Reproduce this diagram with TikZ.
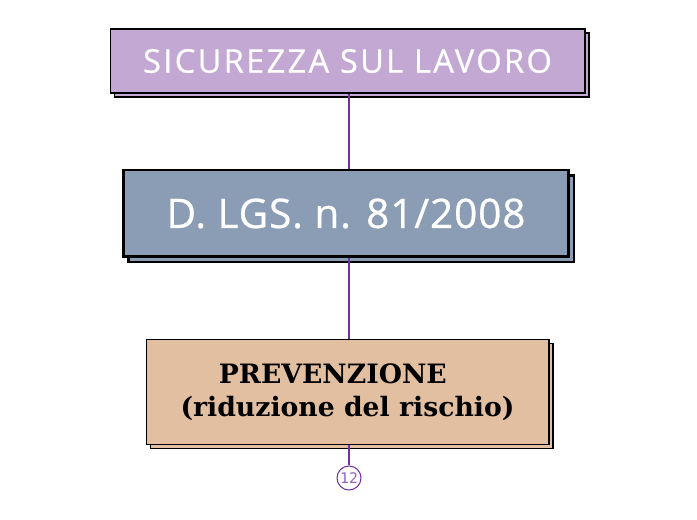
\documentclass[tikz,border=0pt]{standalone}
\usepackage{fontspec}
\setmainfont{Liberation Serif}
\newfontfamily\boxfont[LetterSpace=7,FakeBold=0.6]{Open Sans}
\newfontfamily\lawfont[LetterSpace=2,FakeBold=0.6]{Open Sans}
\newfontfamily\prevfont{DejaVu Serif}
\newfontfamily\labfont{DejaVu Sans Mono}
\usetikzlibrary{shadows}
\definecolor{lilla}{RGB}{195,168,211}
\definecolor{ardesia}{RGB}{138,157,181}
\definecolor{sabbia}{RGB}{226,191,160}
\definecolor{viola}{RGB}{112,48,160}

\tikzset{
  titlebox/.style={draw=black, line width=1pt, fill=lilla, text=white, font=\boxfont\fontsize{24.5}{28}\selectfont,
    copy shadow={shadow xshift=3pt, shadow yshift=-3pt}},
  lawbox/.style={draw=black, line width=2pt, fill=ardesia, text=white, font=\lawfont\fontsize{30.5}{34}\selectfont,
    copy shadow={shadow xshift=4pt, shadow yshift=-4pt}},
  prevbox/.style={draw=black, line width=1pt, fill=sabbia, text=black, align=center,
    font=\prevfont\bfseries\fontsize{20}{24}\selectfont, copy shadow={shadow xshift=3pt, shadow yshift=-3pt}},
  link/.style={draw=viola, line width=1pt}
}

\begin{document}
\begin{tikzpicture}[x=0.75pt,y=0.75pt,yscale=-1,xscale=1]
\useasboundingbox (0,0) rectangle (697,520);

%Shape: Rectangle [id:sicurezza]
\node (sic) [titlebox, minimum width=356pt, minimum height=48pt, inner sep=0pt] at (347.5,61) {SICUREZZA SUL LAVORO};
%Shape: Rectangle [id:decreto]
\node (dlgs) [lawbox, minimum width=334pt, minimum height=65pt, inner sep=0pt] at (346,213.5) {D. LGS. n. 81/2008};
%Shape: Rectangle [id:prevenzione]
\node (prev) [prevbox, minimum width=302pt, minimum height=79pt, inner sep=0pt] at (347.5,392) {PREVENZIONE\hspace*{1.1em}\\[1pt](riduzione del rischio)};
%Shape: Circle [id:numero]
\node (num) [circle, draw=viola, line width=0.75pt, fill=white, minimum size=18pt, inner sep=0pt, text=viola!75, font=\labfont\fontsize{11}{11}\selectfont] at (349,478) {12};

%Straight Lines
\coordinate (axis) at (349,0);
\path[link] (sic.south -| axis) -- (dlgs.north -| axis);
\path[link] (dlgs.south -| axis) -- (prev.north -| axis);
\path[link] (prev.south -| axis) -- (num.north);

\end{tikzpicture}
\end{document}
